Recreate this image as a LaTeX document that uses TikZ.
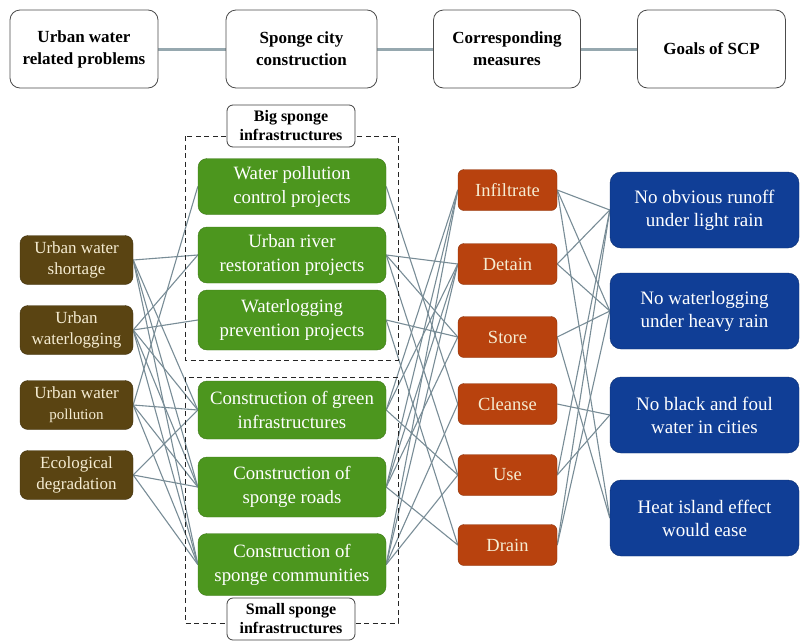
\documentclass[tikz,border=0pt]{standalone}
\usepackage{fontspec}
\setmainfont{Liberation Serif}
\pgfdeclarelayer{bg}
\pgfsetlayers{bg,main}
\definecolor{brownc}{RGB}{90,68,18}
\definecolor{creamc}{RGB}{245,236,210}
\definecolor{greenc}{RGB}{76,150,30}
\definecolor{orangec}{RGB}{184,66,14}
\definecolor{bluec}{RGB}{16,62,150}
\definecolor{linkc}{RGB}{120,140,150}
\definecolor{hdrlinkc}{RGB}{150,168,175}
\tikzset{
  hdr/.style={draw=black!70, line width=0.8pt, rounded corners=10pt, fill=white, minimum width=148pt, minimum height=78pt, inner sep=0pt, align=center, font=\bfseries\fontsize{17}{22}\selectfont},
  prob/.style={fill=brownc, draw=brownc!70!black, rounded corners=8pt, minimum width=113pt, minimum height=49pt, inner sep=0pt, text=creamc, align=center, font=\fontsize{17}{21}\selectfont},
  proj/.style={fill=greenc, draw=greenc!80!black, rounded corners=9pt, minimum width=188pt, inner sep=0pt, text=white, align=center, font=\fontsize{18.8}{24}\selectfont},
  meas/.style={fill=orangec, draw=orangec!75!black, rounded corners=6pt, minimum width=99pt, minimum height=41pt, inner sep=0pt, text=creamc, align=center, font=\fontsize{18.5}{22}\selectfont},
  goal/.style={fill=bluec, draw=bluec!75!black, rounded corners=11pt, minimum width=189pt, minimum height=76pt, inner sep=0pt, text=white, align=center, font=\fontsize{19}{23}\selectfont},
  lab/.style={draw=black!75, line width=0.8pt, fill=white, rounded corners=6pt, minimum width=128pt, minimum height=42pt, inner sep=0pt, align=center, font=\bfseries\fontsize{16}{19}\selectfont},
  link/.style={draw=linkc, line width=1.1pt},
  hlink/.style={draw=hdrlinkc, line width=3pt},
  grp/.style={draw=black!85, dash pattern=on 5pt off 3.5pt, line width=0.9pt}
}
\begin{document}
\begin{tikzpicture}[x=1pt,y=-1pt]
\useasboundingbox (0,0) rectangle (800,643);
% header
\node[hdr] (h1) at (84,49) {Urban water\\related problems};
\node[hdr, minimum width=151pt] (h2) at (301.5,49) {Sponge city\\construction};
\node[hdr, minimum width=147pt] (h3) at (507,49) {Corresponding\\measures};
\node[hdr] (h4) at (711.5,49) {Goals of SCP};
\begin{pgfonlayer}{bg}
\draw[hlink] (h1.east) -- (h2.west);
\draw[hlink] (h2.east) -- (h3.west);
\draw[hlink] (h3.east) -- (h4.west);
\end{pgfonlayer}
% dashed groups
\draw[grp] (185,136) rectangle (398,360);
\draw[grp] (185,377) rectangle (398,623);
\node[lab] (big) at (291,126) {Big sponge\\infrastructures};
\node[lab] (small) at (291,619) {Small sponge\\infrastructures};
% problems
\node[prob] (p1) at (76.5,260) {Urban water\\shortage};
\node[prob] (p2) at (76.5,330) {Urban\\waterlogging};
\node[prob] (p3) at (76.5,405) {Urban water\\{\fontsize{15}{21}\selectfont pollution}};
\node[prob] (p4) at (76.5,475) {Ecological\\degradation};
% projects
\node[proj, minimum height=56pt] (g1) at (292,186.5) {Water pollution\\control projects};
\node[proj, minimum height=56pt] (g2) at (292,255) {Urban river\\restoration projects};
\node[proj, minimum height=60pt] (g3) at (292,320) {Waterlogging\\prevention projects};
\node[proj, minimum height=58pt] (g4) at (292,410) {Construction of green\\infrastructures};
\node[proj, minimum height=60pt] (g5) at (292,487) {Construction of\\sponge roads};
\node[proj, minimum height=62pt] (g6) at (292,564.5) {Construction of\\sponge communities};
% measures
\node[meas] (m1) at (507.5,190) {Infiltrate};
\node[meas] (m2) at (507.5,264) {Detain};
\node[meas] (m3) at (507.5,337) {Store};
\node[meas] (m4) at (507.5,404) {Cleanse};
\node[meas] (m5) at (507.5,475) {Use};
\node[meas] (m6) at (507.5,545) {Drain};
% goals
\node[goal] (o1) at (704.5,210) {No obvious runoff\\under light rain};
\node[goal] (o2) at (704.5,311) {No waterlogging\\under heavy rain};
\node[goal] (o3) at (704.5,415) {No black and foul\\water in cities};
\node[goal] (o4) at (704.5,518) {Heat island effect\\would ease};
% connectors
\begin{pgfonlayer}{bg}
\foreach \a/\b in {p1/g2,p1/g4,p1/g5,p1/g6,p2/g2,p2/g3,p2/g4,p2/g5,p2/g6,p3/g1,p3/g4,p3/g5,p3/g6,p4/g4,p4/g5,p4/g6}
  \draw[link] (\a.east) -- (\b.west);
\foreach \a/\b in {g1/m4,g2/m2,g2/m3,g2/m5,g3/m3,g3/m6,g4/m1,g4/m2,g4/m5,g5/m1,g5/m2,g5/m3,g5/m6,g6/m1,g6/m2,g6/m4,g6/m5}
  \draw[link] (\a.east) -- (\b.west);
\foreach \a/\b in {m1/o1,m1/o2,m1/o4,m2/o1,m2/o2,m3/o2,m3/o4,m4/o3,m5/o1,m5/o3,m6/o1,m6/o2}
  \draw[link] (\a.east) -- (\b.west);
\end{pgfonlayer}
\end{tikzpicture}
\end{document}
